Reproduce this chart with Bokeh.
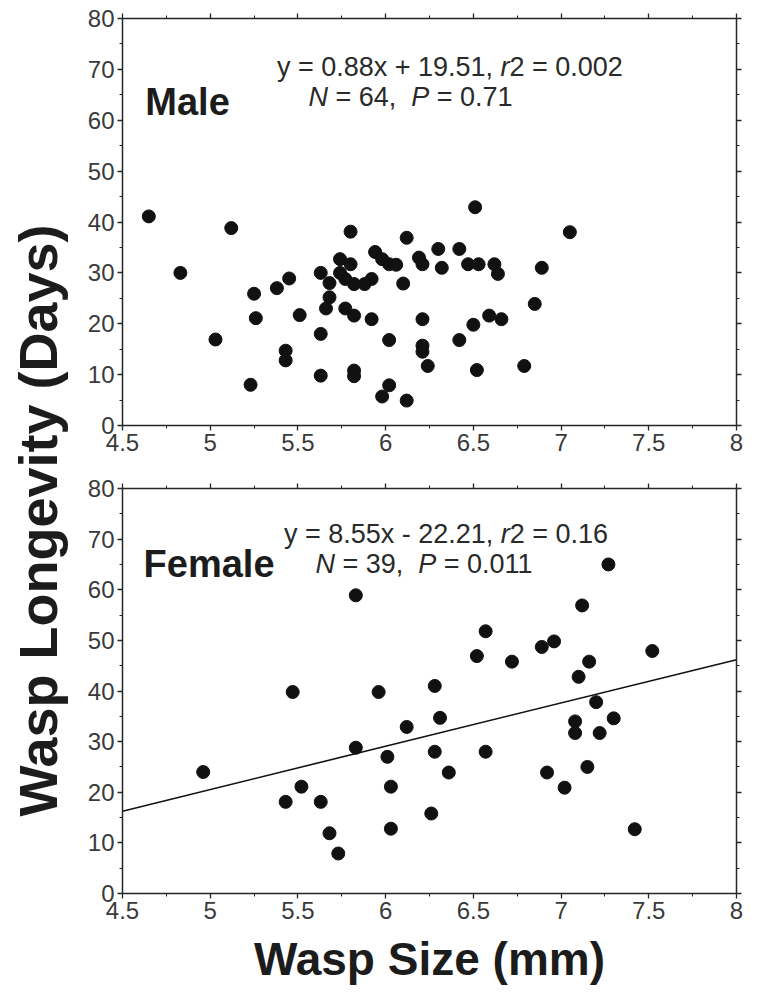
import math
from bokeh.plotting import figure
from bokeh.layouts import row, column
from bokeh.models import Range1d, FixedTicker, LinearAxis, Label
from bokeh.embed import file_html
from bokeh.resources import INLINE

# ---------------- data ----------------
x_ticks = [4.5, 5.0, 5.5, 6.0, 6.5, 7.0, 7.5, 8.0]
x_tick_labels = ["4.5", "5", "5.5", "6", "6.5", "7", "7.5", "8"]
y_ticks = [0, 10, 20, 30, 40, 50, 60, 70, 80]
y_tick_labels = ["0", "10", "20", "30", "40", "50", "60", "70", "80"]

male_size = [4.65, 4.83, 5.12, 5.03, 5.25, 5.26, 5.23, 5.38, 5.45, 5.43, 5.43, 5.51,
             5.63, 5.68, 5.68, 5.66, 5.63, 5.63, 5.74, 5.80, 5.80, 5.74, 5.77, 5.82,
             5.88, 5.92, 5.77, 5.82, 5.92, 5.82, 5.82, 6.02, 6.02, 5.98, 6.12, 5.94,
             5.98, 6.02, 6.06, 6.12, 6.10, 6.51, 7.05, 6.19, 6.21, 6.30, 6.32, 6.42,
             6.47, 6.53, 6.62, 6.64, 6.89, 6.85, 6.59, 6.66, 6.50, 6.21, 6.21, 6.21,
             6.24, 6.42, 6.52, 6.79]
male_days = [41.1, 30.0, 38.8, 16.9, 25.9, 21.1, 8.0, 27.0, 28.9, 14.7, 12.8, 21.7,
             30.0, 28.0, 25.2, 23.0, 18.0, 9.8, 32.7, 31.7, 38.1, 30.0, 28.8, 27.8,
             27.8, 28.8, 23.0, 21.6, 20.9, 10.8, 9.7, 16.8, 7.9, 5.7, 4.9, 34.1,
             32.7, 31.7, 31.6, 36.9, 27.9, 42.9, 38.0, 33.0, 31.7, 34.7, 31.0, 34.7,
             31.7, 31.7, 31.7, 29.8, 31.0, 23.9, 21.6, 20.9, 19.8, 20.9, 15.7, 14.5,
             11.7, 16.8, 10.9, 11.7]

female_size = [4.96, 5.47, 5.83, 5.96, 6.12, 5.83, 6.01, 6.03, 6.03, 5.52, 5.43, 5.63,
               5.68, 5.73, 6.28, 6.31, 6.28, 6.36, 6.26, 6.57, 6.52, 6.72, 6.57, 6.89,
               6.96, 7.12, 7.27, 7.16, 7.10, 7.20, 7.08, 7.08, 7.22, 7.30, 7.52, 6.92,
               7.02, 7.15, 7.42]
female_days = [24.0, 39.8, 58.9, 39.8, 32.9, 28.8, 27.0, 21.1, 12.8, 21.1, 18.1, 18.1,
               11.9, 7.9, 41.0, 34.7, 28.0, 23.9, 15.8, 51.8, 46.9, 45.8, 28.0, 48.7,
               49.8, 56.9, 65.0, 45.8, 42.8, 37.8, 34.0, 31.7, 31.7, 34.6, 47.9, 23.9,
               20.9, 25.0, 12.7]

female_slope = 8.55
female_intercept = -22.21
fit_x = [4.5, 8.0]

male_eq = [("y = 0.88x + 19.51, ", False), ("r", True), ("2 = 0.002", False)]
male_stats = [("N", True), (" = 64,  ", False), ("P", True), (" = 0.71", False)]
female_eq = [("y = 8.55x - 22.21, ", False), ("r", True), ("2 = 0.16", False)]
female_stats = [("N", True), (" = 39,  ", False), ("P", True), (" = 0.011", False)]

# ---------------- styling ----------------
FONT = "Liberation Sans"
INK = "#1c1c1c"
TICK_COLOR = "#3a3a3a"
AX_COLOR = "#262626"
ANN_SIZE = 27

x_minor = [(a + b) / 2 for a, b in zip(x_ticks[:-1], x_ticks[1:])]
y_minor = [(a + b) / 2 for a, b in zip(y_ticks[:-1], y_ticks[1:])]

AW = {' ': 278, '.': 278, ',': 278, '=': 584, '+': 584, '-': 333, 'x': 500,
      'y': 500, 'r': 333, 'N': 722, 'P': 667}


def tw(s, size):
    return sum(AW.get(c, 556) for c in s) * size / 1000.0


def add_segments(p, x, y, segs, size):
    off = 0.0
    for txt, ital in segs:
        lead = len(txt) - len(txt.lstrip(' '))
        core = txt.strip(' ')
        p.add_layout(Label(x=x, y=y, x_offset=off + tw(txt[:lead], size), text=core,
                           text_font=FONT, text_font_size=f"{size}px",
                           text_font_style="italic" if ital else "normal",
                           text_color="#2a2a2a", text_align="left",
                           text_baseline="alphabetic"))
        off += tw(txt, size)


def style_axis(ax, ticks, minor, labels, show):
    ax.ticker = FixedTicker(ticks=ticks, minor_ticks=minor)
    ax.axis_line_color = AX_COLOR
    ax.axis_line_width = 1.5
    ax.major_tick_line_color = AX_COLOR
    ax.major_tick_line_width = 1.3
    ax.minor_tick_line_color = AX_COLOR
    ax.minor_tick_line_width = 1.0
    ax.major_tick_in = 0
    ax.major_tick_out = 5
    ax.minor_tick_in = 0
    ax.minor_tick_out = 3
    ax.major_label_text_font = FONT
    ax.major_label_text_font_size = "24px"
    ax.major_label_text_color = TICK_COLOR
    ax.major_label_standoff = 3
    if show:
        ax.major_label_overrides = {t: l for t, l in zip(ticks, labels)}
    else:
        ax.major_label_overrides = {t: "" for t in ticks}
        ax.major_label_standoff = 0


def make_panel(height, top_b, bottom_b, xs, ys, name, eq, stats, eq_pos, st_pos,
               name_pos, xlabel=None):
    p = figure(width=680, height=height, output_backend="svg", toolbar_location=None,
               x_range=Range1d(4.5, 8.0), y_range=Range1d(0, 80),
               min_border_left=52, min_border_right=14,
               min_border_top=top_b, min_border_bottom=bottom_b)
    p.grid.visible = False
    p.outline_line_color = None
    p.background_fill_color = "white"
    p.border_fill_color = "white"
    bottom_ax = p.below[0]
    style_axis(bottom_ax, x_ticks, x_minor, x_tick_labels, True)
    style_axis(p.left[0], y_ticks, y_minor, y_tick_labels, True)
    if xlabel:
        bottom_ax.axis_label = xlabel
        bottom_ax.axis_label_text_font = FONT
        bottom_ax.axis_label_text_font_size = "46px"
        bottom_ax.axis_label_text_font_style = "bold"
        bottom_ax.axis_label_text_color = INK
        bottom_ax.axis_label_standoff = 11
    top_ax = LinearAxis()
    style_axis(top_ax, x_ticks, x_minor, x_tick_labels, False)
    p.add_layout(top_ax, "above")
    right_ax = LinearAxis()
    style_axis(right_ax, y_ticks, y_minor, y_tick_labels, False)
    p.add_layout(right_ax, "right")
    p.scatter(xs, ys, size=13, fill_color="#111111", line_color="#111111")
    p.add_layout(Label(x=name_pos[0], y=name_pos[1], text=name, text_font=FONT,
                       text_font_size="38px", text_font_style="bold",
                       text_color=INK, text_baseline="alphabetic"))
    add_segments(p, eq_pos[0], eq_pos[1], eq, ANN_SIZE)
    add_segments(p, st_pos[0], st_pos[1], stats, ANN_SIZE)
    return p


TOP_H = 466
BOT_H = 529
top = make_panel(TOP_H, 18, 41, male_size, male_days, "Male", male_eq, male_stats,
                 (5.38, 70.5), (5.56, 64.6), (4.63, 63.5))
bottom = make_panel(BOT_H, 22, 102, female_size, female_days, "Female", female_eq,
                    female_stats, (5.42, 71.1), (5.60, 65.0), (4.62, 65.0),
                    xlabel="Wasp Size (mm)")
fit_y = [female_slope * x + female_intercept for x in fit_x]
bottom.line(fit_x, fit_y, line_color="#111111", line_width=1.6)

ylab = figure(width=70, height=TOP_H + BOT_H, output_backend="svg",
              toolbar_location=None,
              x_range=Range1d(0, 70), y_range=Range1d(TOP_H + BOT_H, 0),
              min_border=0, x_axis_location=None, y_axis_location=None)
ylab.grid.visible = False
ylab.outline_line_color = None
ylab.add_layout(Label(x=37, y=520, text="Wasp Longevity (Days)", angle=math.pi / 2,
                      text_align="center", text_baseline="middle", text_font=FONT,
                      text_font_size="54px", text_font_style="bold", text_color=INK))

layout = row(ylab, column(top, bottom))
open("out.html", "w").write(file_html(layout, INLINE))
